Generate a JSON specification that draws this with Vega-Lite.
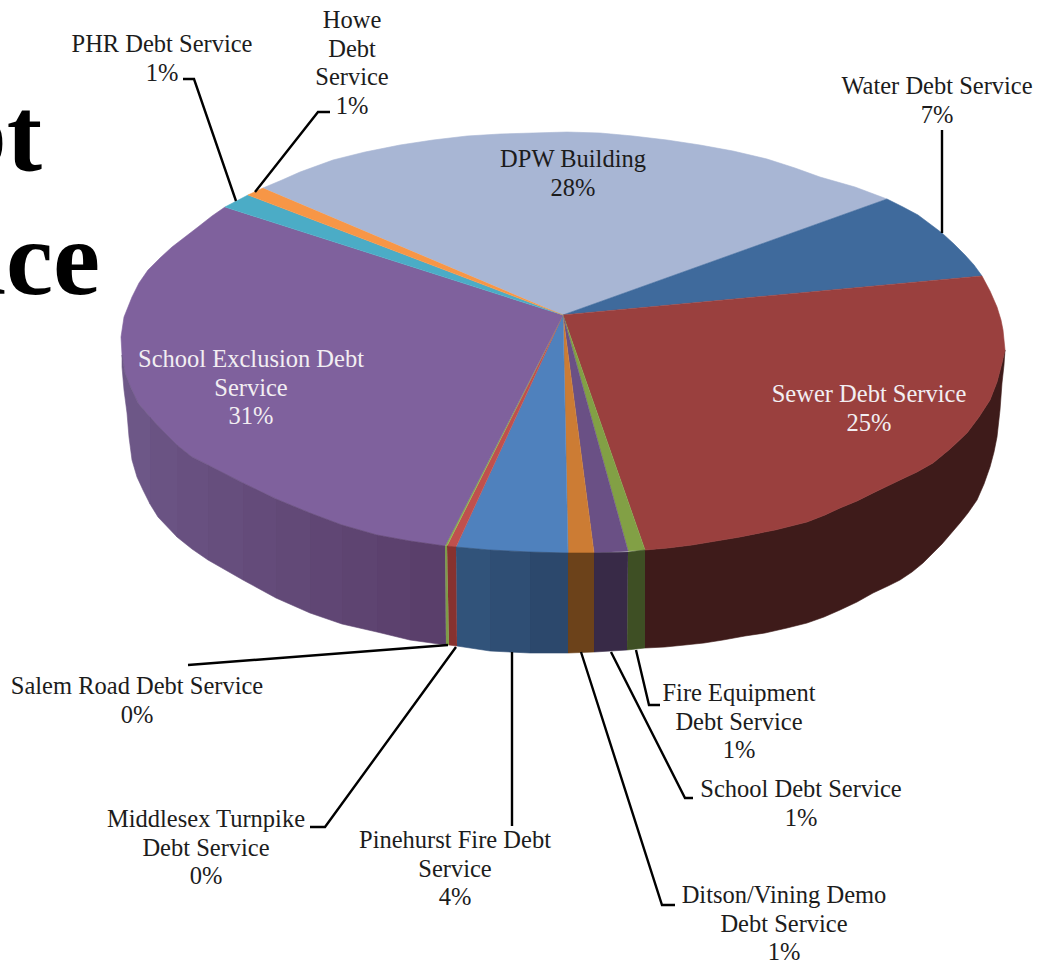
{"$schema":"https://vega.github.io/schema/vega-lite/v6.json","width":1046,"height":963,"padding":0,"autosize":"none","background":"white","view":{"stroke":null},
"datasets":{"shapes":[
{"s":"DPW","i":0,"x":563,"y":315},{"s":"DPW","i":1,"x":263,"y":188},{"s":"DPW","i":2,"x":282,"y":180},{"s":"DPW","i":3,"x":300,"y":172},{"s":"DPW","i":4,"x":333,"y":160},{"s":"DPW","i":5,"x":365,"y":152},{"s":"DPW","i":6,"x":400,"y":145},{"s":"DPW","i":7,"x":433,"y":140},{"s":"DPW","i":8,"x":467,"y":136},{"s":"DPW","i":9,"x":500,"y":134},{"s":"DPW","i":10,"x":533,"y":133},{"s":"DPW","i":11,"x":567,"y":132},{"s":"DPW","i":12,"x":600,"y":133},{"s":"DPW","i":13,"x":633,"y":136},{"s":"DPW","i":14,"x":667,"y":140},{"s":"DPW","i":15,"x":700,"y":145},{"s":"DPW","i":16,"x":733,"y":151},{"s":"DPW","i":17,"x":767,"y":159},{"s":"DPW","i":18,"x":795,"y":168},{"s":"DPW","i":19,"x":820,"y":177},{"s":"DPW","i":20,"x":855,"y":187},{"s":"DPW","i":21,"x":887,"y":199},
{"s":"Water","i":0,"x":563,"y":315},{"s":"Water","i":1,"x":887,"y":199},{"s":"Water","i":2,"x":903,"y":207},{"s":"Water","i":3,"x":918,"y":215},{"s":"Water","i":4,"x":930,"y":224},{"s":"Water","i":5,"x":942,"y":233},{"s":"Water","i":6,"x":954,"y":244},{"s":"Water","i":7,"x":965,"y":255},{"s":"Water","i":8,"x":974,"y":265},{"s":"Water","i":9,"x":982,"y":276},
{"s":"SewerSide","i":0,"x":645,"y":550},{"s":"SewerSide","i":1,"x":668,"y":548},{"s":"SewerSide","i":2,"x":692,"y":545},{"s":"SewerSide","i":3,"x":716,"y":541},{"s":"SewerSide","i":4,"x":740,"y":537},{"s":"SewerSide","i":5,"x":775,"y":530},{"s":"SewerSide","i":6,"x":807,"y":522},{"s":"SewerSide","i":7,"x":825,"y":515},{"s":"SewerSide","i":8,"x":840,"y":508},{"s":"SewerSide","i":9,"x":857,"y":501},{"s":"SewerSide","i":10,"x":873,"y":493},{"s":"SewerSide","i":11,"x":900,"y":480},{"s":"SewerSide","i":12,"x":917,"y":472},{"s":"SewerSide","i":13,"x":933,"y":463},{"s":"SewerSide","i":14,"x":950,"y":449},{"s":"SewerSide","i":15,"x":967,"y":433},{"s":"SewerSide","i":16,"x":979,"y":417},{"s":"SewerSide","i":17,"x":990,"y":400},{"s":"SewerSide","i":18,"x":997,"y":382},{"s":"SewerSide","i":19,"x":1002,"y":363},{"s":"SewerSide","i":20,"x":1005,"y":350},{"s":"SewerSide","i":21,"x":1004,"y":365},{"s":"SewerSide","i":22,"x":1002,"y":383},{"s":"SewerSide","i":23,"x":1000,"y":410},{"s":"SewerSide","i":24,"x":997,"y":437},{"s":"SewerSide","i":25,"x":994,"y":452},{"s":"SewerSide","i":26,"x":990,"y":467},{"s":"SewerSide","i":27,"x":984,"y":484},{"s":"SewerSide","i":28,"x":977,"y":500},{"s":"SewerSide","i":29,"x":968,"y":513},{"s":"SewerSide","i":30,"x":960,"y":523},{"s":"SewerSide","i":31,"x":942,"y":544},{"s":"SewerSide","i":32,"x":923,"y":563},{"s":"SewerSide","i":33,"x":912,"y":572},{"s":"SewerSide","i":34,"x":900,"y":580},{"s":"SewerSide","i":35,"x":888,"y":586},{"s":"SewerSide","i":36,"x":873,"y":593},{"s":"SewerSide","i":37,"x":857,"y":602},{"s":"SewerSide","i":38,"x":840,"y":610},{"s":"SewerSide","i":39,"x":824,"y":617},{"s":"SewerSide","i":40,"x":807,"y":623},{"s":"SewerSide","i":41,"x":787,"y":628},{"s":"SewerSide","i":42,"x":765,"y":633},{"s":"SewerSide","i":43,"x":745,"y":636},{"s":"SewerSide","i":44,"x":723,"y":640},{"s":"SewerSide","i":45,"x":704,"y":643},{"s":"SewerSide","i":46,"x":685,"y":645},{"s":"SewerSide","i":47,"x":665,"y":647},{"s":"SewerSide","i":48,"x":645,"y":648},
{"s":"Sewer","i":0,"x":563,"y":315},{"s":"Sewer","i":1,"x":982,"y":276},{"s":"Sewer","i":2,"x":990,"y":291},{"s":"Sewer","i":3,"x":997,"y":307},{"s":"Sewer","i":4,"x":1001,"y":320},{"s":"Sewer","i":5,"x":1003,"y":330},{"s":"Sewer","i":6,"x":1005,"y":350},{"s":"Sewer","i":7,"x":1002,"y":363},{"s":"Sewer","i":8,"x":997,"y":382},{"s":"Sewer","i":9,"x":990,"y":400},{"s":"Sewer","i":10,"x":979,"y":417},{"s":"Sewer","i":11,"x":967,"y":433},{"s":"Sewer","i":12,"x":950,"y":449},{"s":"Sewer","i":13,"x":933,"y":463},{"s":"Sewer","i":14,"x":917,"y":472},{"s":"Sewer","i":15,"x":900,"y":480},{"s":"Sewer","i":16,"x":873,"y":493},{"s":"Sewer","i":17,"x":857,"y":501},{"s":"Sewer","i":18,"x":840,"y":508},{"s":"Sewer","i":19,"x":825,"y":515},{"s":"Sewer","i":20,"x":807,"y":522},{"s":"Sewer","i":21,"x":775,"y":530},{"s":"Sewer","i":22,"x":740,"y":537},{"s":"Sewer","i":23,"x":716,"y":541},{"s":"Sewer","i":24,"x":692,"y":545},{"s":"Sewer","i":25,"x":668,"y":548},{"s":"Sewer","i":26,"x":645,"y":550},
{"s":"Fire","i":0,"x":563,"y":315},{"s":"Fire","i":1,"x":645,"y":550},{"s":"Fire","i":2,"x":628,"y":551},
{"s":"SchoolDebt","i":0,"x":563,"y":315},{"s":"SchoolDebt","i":1,"x":628,"y":551},{"s":"SchoolDebt","i":2,"x":594,"y":553},
{"s":"Ditson","i":0,"x":563,"y":315},{"s":"Ditson","i":1,"x":594,"y":553},{"s":"Ditson","i":2,"x":568,"y":553},
{"s":"Pinehurst","i":0,"x":563,"y":315},{"s":"Pinehurst","i":1,"x":568,"y":553},{"s":"Pinehurst","i":2,"x":530,"y":552},{"s":"Pinehurst","i":3,"x":490,"y":550},{"s":"Pinehurst","i":4,"x":456,"y":547},
{"s":"Middlesex","i":0,"x":563,"y":315},{"s":"Middlesex","i":1,"x":456,"y":547},{"s":"Middlesex","i":2,"x":447,"y":546},
{"s":"Salem","i":0,"x":563,"y":315},{"s":"Salem","i":1,"x":447,"y":546},{"s":"Salem","i":2,"x":445,"y":545},
{"s":"School","i":0,"x":563,"y":315},{"s":"School","i":1,"x":445,"y":546},{"s":"School","i":2,"x":410,"y":541},{"s":"School","i":3,"x":377,"y":535},{"s":"School","i":4,"x":342,"y":525},{"s":"School","i":5,"x":310,"y":513},{"s":"School","i":6,"x":276,"y":499},{"s":"School","i":7,"x":243,"y":483},{"s":"School","i":8,"x":208,"y":465},{"s":"School","i":9,"x":192,"y":457},{"s":"School","i":10,"x":177,"y":445},{"s":"School","i":11,"x":162,"y":430},{"s":"School","i":12,"x":150,"y":417},{"s":"School","i":13,"x":138,"y":403},{"s":"School","i":14,"x":131,"y":388},{"s":"School","i":15,"x":125,"y":373},{"s":"School","i":16,"x":122,"y":355},{"s":"School","i":17,"x":121,"y":337},{"s":"School","i":18,"x":124,"y":317},{"s":"School","i":19,"x":132,"y":297},{"s":"School","i":20,"x":139,"y":283},{"s":"School","i":21,"x":148,"y":270},{"s":"School","i":22,"x":160,"y":258},{"s":"School","i":23,"x":172,"y":247},{"s":"School","i":24,"x":185,"y":237},{"s":"School","i":25,"x":198,"y":227},{"s":"School","i":26,"x":212,"y":216},{"s":"School","i":27,"x":225,"y":207},
{"s":"PHR","i":0,"x":563,"y":315},{"s":"PHR","i":1,"x":225,"y":207},{"s":"PHR","i":2,"x":248,"y":195},
{"s":"Howe","i":0,"x":563,"y":315},{"s":"Howe","i":1,"x":248,"y":195},{"s":"Howe","i":2,"x":263,"y":188},
{"s":"FireSide","i":0,"x":645,"y":550},{"s":"FireSide","i":1,"x":628,"y":552},{"s":"FireSide","i":2,"x":627,"y":650},{"s":"FireSide","i":3,"x":645,"y":648},
{"s":"SchoolDebtSide","i":0,"x":628,"y":552},{"s":"SchoolDebtSide","i":1,"x":594,"y":553},{"s":"SchoolDebtSide","i":2,"x":594,"y":652},{"s":"SchoolDebtSide","i":3,"x":627,"y":650},
{"s":"DitsonSide","i":0,"x":594,"y":553},{"s":"DitsonSide","i":1,"x":568,"y":553},{"s":"DitsonSide","i":2,"x":568,"y":653},{"s":"DitsonSide","i":3,"x":594,"y":652},
{"s":"PineSide1","i":0,"x":568,"y":553},{"s":"PineSide1","i":1,"x":530,"y":552},{"s":"PineSide1","i":2,"x":530,"y":653},{"s":"PineSide1","i":3,"x":568,"y":653},
{"s":"PineSide2","i":0,"x":530,"y":552},{"s":"PineSide2","i":1,"x":490,"y":550},{"s":"PineSide2","i":2,"x":490,"y":651},{"s":"PineSide2","i":3,"x":530,"y":653},
{"s":"PineSide3","i":0,"x":490,"y":550},{"s":"PineSide3","i":1,"x":456,"y":547},{"s":"PineSide3","i":2,"x":457,"y":646},{"s":"PineSide3","i":3,"x":490,"y":651},
{"s":"MiddlesexSide","i":0,"x":456,"y":547},{"s":"MiddlesexSide","i":1,"x":447,"y":546},{"s":"MiddlesexSide","i":2,"x":449,"y":645},{"s":"MiddlesexSide","i":3,"x":457,"y":646},
{"s":"SalemSide","i":0,"x":447,"y":546},{"s":"SalemSide","i":1,"x":445,"y":546},{"s":"SalemSide","i":2,"x":446,"y":645},{"s":"SalemSide","i":3,"x":449,"y":645},
{"s":"SS1","i":0,"x":445,"y":546},{"s":"SS1","i":1,"x":410,"y":541},{"s":"SS1","i":2,"x":410,"y":640},{"s":"SS1","i":3,"x":446,"y":645},
{"s":"SS2","i":0,"x":410,"y":541},{"s":"SS2","i":1,"x":377,"y":535},{"s":"SS2","i":2,"x":377,"y":632},{"s":"SS2","i":3,"x":410,"y":640},
{"s":"SS3","i":0,"x":377,"y":535},{"s":"SS3","i":1,"x":342,"y":525},{"s":"SS3","i":2,"x":342,"y":624},{"s":"SS3","i":3,"x":377,"y":632},
{"s":"SS4","i":0,"x":342,"y":525},{"s":"SS4","i":1,"x":310,"y":513},{"s":"SS4","i":2,"x":310,"y":613},{"s":"SS4","i":3,"x":342,"y":624},
{"s":"SS5","i":0,"x":310,"y":513},{"s":"SS5","i":1,"x":276,"y":499},{"s":"SS5","i":2,"x":276,"y":598},{"s":"SS5","i":3,"x":310,"y":613},
{"s":"SS6","i":0,"x":276,"y":499},{"s":"SS6","i":1,"x":243,"y":483},{"s":"SS6","i":2,"x":243,"y":580},{"s":"SS6","i":3,"x":276,"y":598},
{"s":"SS7","i":0,"x":243,"y":483},{"s":"SS7","i":1,"x":208,"y":465},{"s":"SS7","i":2,"x":208,"y":560},{"s":"SS7","i":3,"x":243,"y":580},
{"s":"SS8","i":0,"x":208,"y":465},{"s":"SS8","i":1,"x":192,"y":457},{"s":"SS8","i":2,"x":177,"y":445},{"s":"SS8","i":3,"x":177,"y":537},{"s":"SS8","i":4,"x":192,"y":549},{"s":"SS8","i":5,"x":208,"y":560},
{"s":"SS9","i":0,"x":177,"y":445},{"s":"SS9","i":1,"x":162,"y":430},{"s":"SS9","i":2,"x":150,"y":417},{"s":"SS9","i":3,"x":150,"y":504},{"s":"SS9","i":4,"x":158,"y":517},{"s":"SS9","i":5,"x":177,"y":537},
{"s":"SS10","i":0,"x":150,"y":417},{"s":"SS10","i":1,"x":138,"y":403},{"s":"SS10","i":2,"x":131,"y":388},{"s":"SS10","i":3,"x":125,"y":373},{"s":"SS10","i":4,"x":122,"y":355},{"s":"SS10","i":5,"x":122,"y":367},{"s":"SS10","i":6,"x":124,"y":390},{"s":"SS10","i":7,"x":127,"y":413},{"s":"SS10","i":8,"x":129,"y":437},{"s":"SS10","i":9,"x":132,"y":460},{"s":"SS10","i":10,"x":137,"y":477},{"s":"SS10","i":11,"x":143,"y":490},{"s":"SS10","i":12,"x":150,"y":504}
],
"leaders":[
{"l":"PHR","i":0,"x":183,"y":79},{"l":"PHR","i":1,"x":194,"y":79},{"l":"PHR","i":2,"x":236,"y":201},
{"l":"Howe","i":0,"x":330,"y":112},{"l":"Howe","i":1,"x":318,"y":112},{"l":"Howe","i":2,"x":255,"y":192},
{"l":"Water","i":0,"x":942,"y":130},{"l":"Water","i":1,"x":942,"y":233},
{"l":"Salem","i":0,"x":188,"y":665},{"l":"Salem","i":1,"x":448,"y":645},
{"l":"Middlesex","i":0,"x":310,"y":827},{"l":"Middlesex","i":1,"x":325,"y":827},{"l":"Middlesex","i":2,"x":456,"y":647},
{"l":"Pinehurst","i":0,"x":512,"y":826},{"l":"Pinehurst","i":1,"x":512,"y":652},
{"l":"Ditson","i":0,"x":675,"y":905},{"l":"Ditson","i":1,"x":662,"y":905},{"l":"Ditson","i":2,"x":581,"y":652},
{"l":"SchoolDebt","i":0,"x":693,"y":798},{"l":"SchoolDebt","i":1,"x":685,"y":798},{"l":"SchoolDebt","i":2,"x":611,"y":652},
{"l":"Fire","i":0,"x":660,"y":705},{"l":"Fire","i":1,"x":649,"y":705},{"l":"Fire","i":2,"x":636,"y":650}
],
"darkLabels":[
{"t":"PHR Debt Service\n1%","x":162,"y":52},
{"t":"Howe\nDebt\nService\n1%","x":352,"y":28},
{"t":"Water Debt Service\n7%","x":937,"y":94},
{"t":"DPW Building\n28%","x":573,"y":167},
{"t":"Salem Road Debt Service\n0%","x":137,"y":694},
{"t":"Middlesex Turnpike\nDebt Service\n0%","x":206,"y":827},
{"t":"Pinehurst Fire Debt\nService\n4%","x":455,"y":848},
{"t":"Ditson/Vining Demo\nDebt Service\n1%","x":784,"y":903},
{"t":"School Debt Service\n1%","x":801,"y":797},
{"t":"Fire Equipment\nDebt Service\n1%","x":739,"y":701}
],
"lightLabels":[
{"t":"Sewer Debt Service\n25%","x":869,"y":402},
{"t":"School Exclusion Debt\nService\n31%","x":251,"y":367}
],
"bigText":[
{"t":"Debt","x":42,"y":170},
{"t":"Service","x":100,"y":294}
]},
"layer":[
{"data":{"name":"bigText"},"mark":{"type":"text","font":"Liberation Serif","fontWeight":"bold","fontSize":106,"align":"right","baseline":"alphabetic","color":"#000000"},
"encoding":{"x":{"field":"x","type":"quantitative","scale":{"domain":[0,1046],"nice":false,"zero":false},"axis":null},"y":{"field":"y","type":"quantitative","scale":{"domain":[963,0],"nice":false,"zero":false},"axis":null},"text":{"field":"t"}}},
{"data":{"name":"shapes"},"mark":{"type":"line","filled":true,"strokeWidth":0.6,"interpolate":"linear"},
"encoding":{"x":{"field":"x","type":"quantitative","axis":null},"y":{"field":"y","type":"quantitative","axis":null},"order":{"field":"i","type":"quantitative"},
"color":{"field":"s","type":"nominal","legend":null,"scale":{"domain":["DPW","Water","Sewer","Fire","SchoolDebt","Ditson","Pinehurst","Middlesex","Salem","School","PHR","Howe","SewerSide","FireSide","SchoolDebtSide","DitsonSide","PineSide1","PineSide2","PineSide3","MiddlesexSide","SalemSide","SS1","SS2","SS3","SS4","SS5","SS6","SS7","SS8","SS9","SS10"],"range":["#A8B6D4","#3F6A9C","#9A403E","#82A045","#6A5085","#CC7C34","#4F81BD","#C0504D","#8DB04F","#7F619D","#4BACC6","#F79646","#3E1B1A","#3E4F24","#382A47","#6C421A","#2C486C","#2F4E74","#31537A","#87322F","#7E9C48","#5A3F6B","#5C416E","#5E4471","#604674","#624977","#644B7A","#664E7D","#685080","#6A5383","#6D5787"]}},
"stroke":{"field":"s","type":"nominal","legend":null,"scale":{"domain":["DPW","Water","Sewer","Fire","SchoolDebt","Ditson","Pinehurst","Middlesex","Salem","School","PHR","Howe","SewerSide","FireSide","SchoolDebtSide","DitsonSide","PineSide1","PineSide2","PineSide3","MiddlesexSide","SalemSide","SS1","SS2","SS3","SS4","SS5","SS6","SS7","SS8","SS9","SS10"],"range":["#A8B6D4","#3F6A9C","#9A403E","#82A045","#6A5085","#CC7C34","#4F81BD","#C0504D","#8DB04F","#7F619D","#4BACC6","#F79646","#3E1B1A","#3E4F24","#382A47","#6C421A","#2C486C","#2F4E74","#31537A","#87322F","#7E9C48","#5A3F6B","#5C416E","#5E4471","#604674","#624977","#644B7A","#664E7D","#685080","#6A5383","#6D5787"]}}}},
{"data":{"name":"leaders"},"mark":{"type":"line","color":"#000000","strokeWidth":2.4},
"encoding":{"x":{"field":"x","type":"quantitative","axis":null},"y":{"field":"y","type":"quantitative","axis":null},"order":{"field":"i","type":"quantitative"},"detail":{"field":"l"}}},
{"data":{"name":"darkLabels"},"mark":{"type":"text","font":"Liberation Serif","fontSize":24.5,"lineBreak":"\n","lineHeight":28.5,"align":"center","baseline":"alphabetic","color":"#1c1c1c"},
"encoding":{"x":{"field":"x","type":"quantitative","axis":null},"y":{"field":"y","type":"quantitative","axis":null},"text":{"field":"t"}}},
{"data":{"name":"lightLabels"},"mark":{"type":"text","font":"Liberation Serif","fontSize":24.5,"lineBreak":"\n","lineHeight":28.5,"align":"center","baseline":"alphabetic","color":"#F2EEF2"},
"encoding":{"x":{"field":"x","type":"quantitative","axis":null},"y":{"field":"y","type":"quantitative","axis":null},"text":{"field":"t"}}}
],
"resolve":{"scale":{"color":"independent","stroke":"independent"}}}
